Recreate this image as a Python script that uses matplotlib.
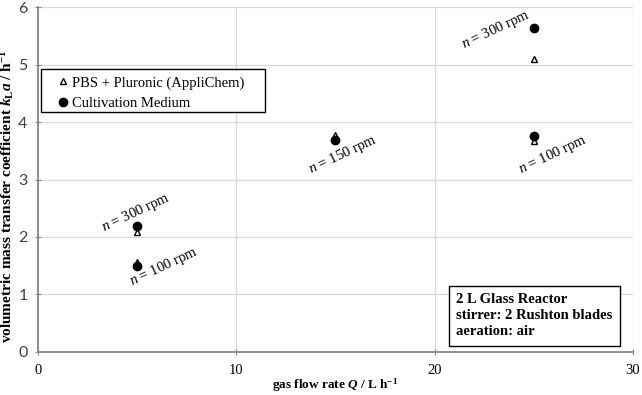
import numpy as np
import matplotlib.pyplot as plt
from matplotlib.patches import Rectangle

plt.rcParams['font.family'] = 'Liberation Serif'
plt.rcParams['mathtext.fontset'] = 'custom'
plt.rcParams['mathtext.rm'] = 'Liberation Serif'
plt.rcParams['mathtext.it'] = 'Liberation Serif:italic'
plt.rcParams['mathtext.bf'] = 'Liberation Serif:bold'
plt.rcParams['mathtext.bfit'] = 'Liberation Serif:italic:bold'

# gas flow rate Q / L h-1
Q = [5, 5, 15, 25, 25]
# kLa values
kla_pbs = [1.56, 2.09, 3.78, 3.67, 5.10]
kla_med = [1.50, 2.19, 3.68, 3.76, 5.63]

# rotated labels: (x, y, text)
lab_x = [4.94, 6.35, 15.38, 23.1, 25.97]
lab_y = [2.43, 1.49, 3.44, 5.60, 3.44]
lab_txt = ['$n$ = 300 rpm', '$n$ = 100 rpm', '$n$ = 150 rpm',
           '$n$ = 300 rpm', '$n$ = 100 rpm']

fig = plt.figure(figsize=(6.42, 3.95), dpi=100)
ax = fig.add_axes([0.059, 0.109, 0.927, 0.873])

ax.plot(Q, kla_pbs, '^', mfc='white', mec='black', mew=1.0, ms=5,
        label='PBS + Pluronic (AppliChem)', zorder=3)
ax.plot(Q, kla_med, 'o', color='black', ms=6,
        label='Cultivation Medium', zorder=4)

for x, y, t in zip(lab_x, lab_y, lab_txt):
    ax.text(x, y, t, rotation=25, ha='center', va='center', fontsize=10.5,
            rotation_mode='anchor')

ax.set_xlim(0, 30)
ax.set_ylim(0, 6)
ax.set_xticks([0, 10, 20, 30])
ax.set_yticks(range(7))
ax.grid(True, color='#d9d9d9', lw=0.9)
ax.set_axisbelow(True)
for s in ['top', 'right']:
    ax.spines[s].set_visible(False)
for s in ['left', 'bottom']:
    ax.spines[s].set_color('#888888')
    ax.spines[s].set_linewidth(1.3)
ax.tick_params(direction='inout', length=5, color='#888888', labelsize=10.5)
ax.tick_params(axis='x', pad=6)
ax.tick_params(axis='y', pad=5, labelcolor='#404040')
for lbl in ax.get_yticklabels():
    lbl.set_family('Lato')
    lbl.set_fontsize(11.5)

ax.set_xlabel('gas flow rate $\\mathbfit{Q}$ / L h$^{\\mathbf{-1}}$',
              fontweight='bold', fontsize=9.5)
ax.set_ylabel('volumetric mass transfer coefficient $\\mathbfit{k}_{\\mathbf{L}}\\mathbfit{a}$ / h$^{\\mathbf{-1}}$',
              fontweight='bold', fontsize=11)
ax.xaxis.set_label_coords(0.5, -0.072)
ax.yaxis.set_label_coords(-0.036, 0.45)

leg = ax.legend(loc='upper left', bbox_to_anchor=(0.035, 0.800), fontsize=10.5,
                frameon=False, handlelength=0.6, handletextpad=0.3,
                borderpad=0, labelspacing=0.5, borderaxespad=0)
ax.add_patch(Rectangle((0.005, 0.696), 0.376, 0.125, transform=ax.transAxes,
                       fc='white', ec='black', lw=1.0, zorder=2.5))

ax.text(0.703, 0.105,
        '2 L Glass Reactor\nstirrer: 2 Rushton blades\naeration: air',
        transform=ax.transAxes, ha='left', va='center', fontsize=10.5,
        fontweight='bold', linespacing=1.3,
        bbox=dict(boxstyle='square,pad=0.5', fc='white', ec='black', lw=1.0))

fig.savefig('out.png', dpi=100)
